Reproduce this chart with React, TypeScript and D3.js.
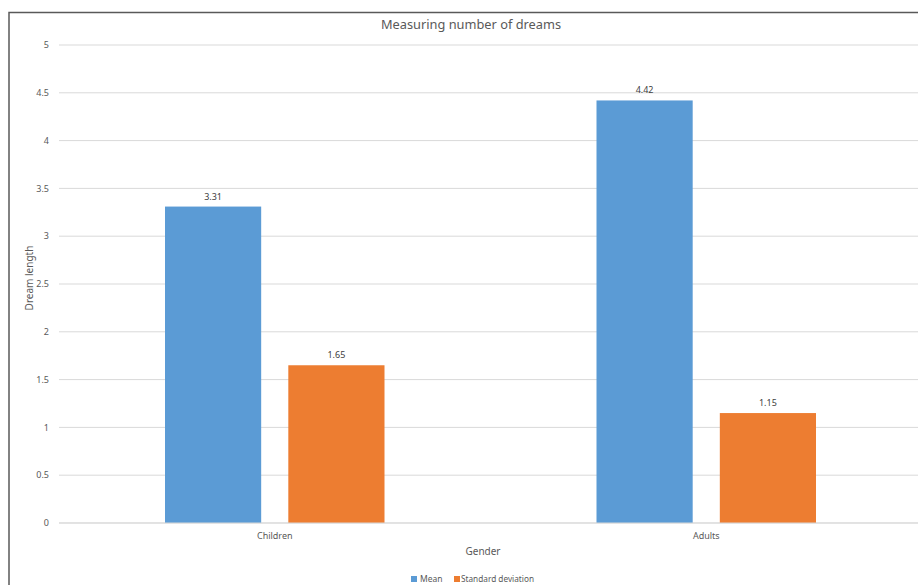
import React from "react";
import * as d3 from "d3";

const categories = ["Children", "Adults"];
const seriesNames = ["Mean", "Standard deviation"];
const meanValues = [3.31, 4.42];
const sdValues = [1.65, 1.15];
const yTicks = [0, 0.5, 1, 1.5, 2, 2.5, 3, 3.5, 4, 4.5, 5];
const colors = ["#5B9BD5", "#ED7D31"];

const W = 918;
const H = 585;
const font = "'Noto Sans', 'Open Sans', sans-serif";

export default function App() {
  const x0 = d3.scaleBand().domain(categories).range([59, 922]).paddingInner(0).paddingOuter(0);
  const y = d3.scaleLinear().domain([0, 5]).range([523, 45]);
  const inner = d3.scaleBand().domain(seriesNames).range([106, x0.bandwidth() - 106]).paddingInner(0.22).paddingOuter(0);
  const series = [meanValues, sdValues];

  return (
    <svg width={W} height={H} style={{ position: "absolute", left: 0, top: 0, background: "#fff" }} fontFamily={font}>
      <rect x={9} y={12.5} width={1000} height={700} fill="#fff" stroke="#595959" strokeWidth={1.5} />
      <text x={471} y={29} textAnchor="middle" fontSize={12.8} fill="#595959">Measuring number of dreams</text>
      {yTicks.map((t) => (
        <g key={t}>
          <line x1={59} x2={922} y1={y(t)} y2={y(t)} stroke="#D9D9D9" strokeWidth={1} />
          <text x={49} y={y(t)} dy="0.35em" textAnchor="end" fontSize={9} fill="#595959">{String(t)}</text>
        </g>
      ))}
      {categories.map((c, ci) => (
        <g key={c}>
          {seriesNames.map((s, si) => {
            const v = series[si][ci];
            const bx = (x0(c) as number) + (inner(s) as number);
            const bw = inner.bandwidth();
            return (
              <g key={s}>
                <rect x={bx} y={y(v)} width={bw} height={y(0) - y(v)} fill={colors[si]} />
                <text x={bx + bw / 2} y={y(v) - 7} textAnchor="middle" fontSize={9} fill="#404040">{v.toFixed(2)}</text>
              </g>
            );
          })}
          <text x={(x0(c) as number) + x0.bandwidth() / 2} y={539} textAnchor="middle" fontSize={9} fill="#595959">{c}</text>
        </g>
      ))}
      <line x1={59} x2={922} y1={y(0)} y2={y(0)} stroke="#D9D9D9" strokeWidth={1} />
      <text x={483} y={555} textAnchor="middle" fontSize={10} fill="#595959">Gender</text>
      <text transform={`translate(33,${(45 + 523) / 2 - 6}) rotate(-90)`} textAnchor="middle" fontSize={10} fill="#595959">Dream length</text>
      <g>
        <rect x={411} y={576} width={6} height={6} fill={colors[0]} />
        <text x={420} y={582} fontSize={8.5} fill="#595959">{seriesNames[0]}</text>
        <rect x={454} y={576} width={6} height={6} fill={colors[1]} />
        <text x={461} y={582} fontSize={8.5} fill="#595959" textLength={73} lengthAdjust="spacingAndGlyphs">{seriesNames[1]}</text>
      </g>
    </svg>
  );
}
